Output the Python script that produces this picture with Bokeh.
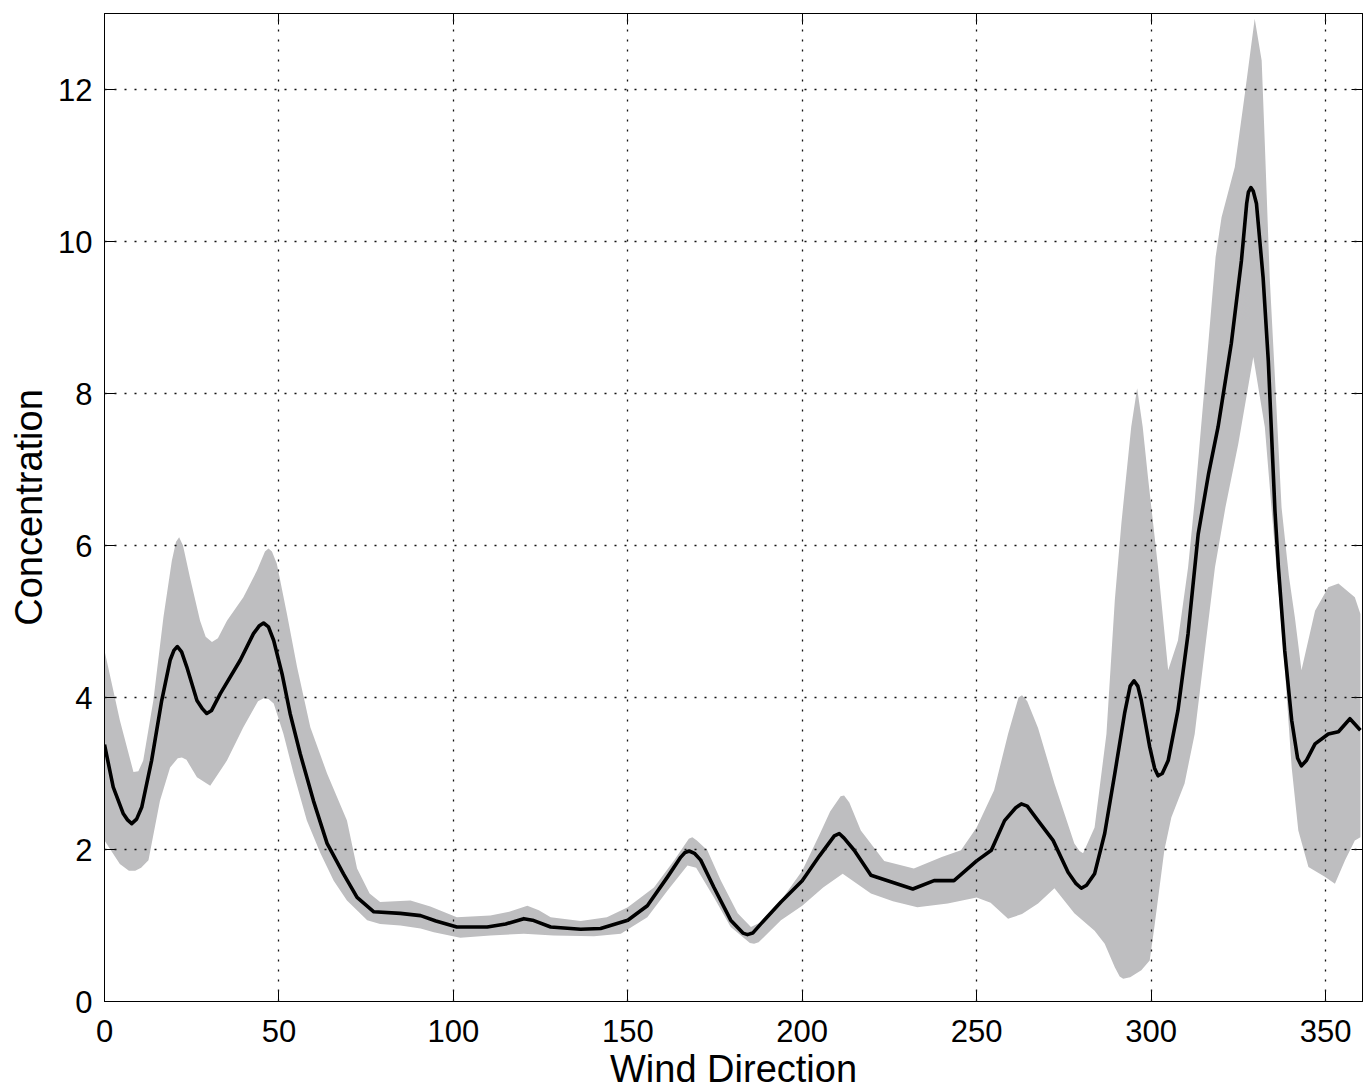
import numpy as np
from bokeh.plotting import figure
from bokeh.models import LinearAxis, FixedTicker, Range1d, CustomJSTickFormatter
from bokeh.embed import file_html
from bokeh.resources import INLINE

# ---- data ----
mean_x = [0, 2.5, 5.4, 6.6, 7.8, 9.2, 10.7, 13.5, 16.4, 18.8, 19.9, 20.9, 22.1, 23.6, 26.5, 28.1,
          29.3, 30.7, 33.2, 38.9, 42.7, 44.3, 45.6, 47, 48.5, 50.9, 53.2, 56.1, 59.9, 63.8, 68.5,
          72.4, 77.2, 84.8, 90.6, 95, 101, 109.7, 115, 120.2, 122.7, 127.9, 136.5, 142.2, 150,
          155.6, 161.4, 165.2, 166.4, 167.6, 169.1, 170.9, 174.7, 179.5, 183, 184.3, 185.8,
          189.1, 193.9, 200, 205, 209.2, 210.6, 212, 214.9, 219.7, 224.5, 231.7, 237.8, 243.5,
          250, 254.2, 258, 261.2, 262.8, 264.5, 267.6, 271.9, 276.2, 278.5, 280, 281.5, 283.8,
          286.7, 289.6, 292.4, 294, 295.1, 296.2, 297.2, 299.6, 301, 302, 303.2, 304.9, 307.7,
          310.6, 313.5, 316.5, 319.2, 323, 325.9, 327.4, 327.9, 328.6, 329.3, 330.2, 332.1,
          333.6, 335.5, 336.5, 338.3, 340.3, 342, 343.1, 344.5, 347, 350.8, 353.7, 357, 360]
mean_y = [3.38, 2.82, 2.47, 2.39, 2.34, 2.40, 2.56, 3.17, 3.96, 4.49, 4.62, 4.67, 4.6, 4.4, 3.96, 3.85,
          3.79, 3.83, 4.05, 4.49, 4.84, 4.94, 4.98, 4.93, 4.75, 4.31, 3.79, 3.26, 2.64, 2.08, 1.68,
          1.37, 1.18, 1.16, 1.13, 1.06, 0.98, 0.98, 1.02, 1.09, 1.07, 0.98, 0.95, 0.96, 1.07,
          1.26, 1.64, 1.9, 1.96, 1.98, 1.95, 1.86, 1.5, 1.07, 0.9, 0.88, 0.9,
          1.07, 1.31, 1.59, 1.92, 2.18, 2.21, 2.15, 1.99, 1.66, 1.59, 1.48, 1.59, 1.59,
          1.85, 1.99, 2.38, 2.55, 2.6, 2.57, 2.38, 2.12, 1.70, 1.55, 1.49, 1.53, 1.68,
          2.21, 3.0, 3.79, 4.15, 4.22, 4.15, 3.96, 3.35, 3.07, 2.97, 3.0, 3.17, 3.83,
          4.84, 6.15, 6.95, 7.56, 8.66, 9.75, 10.5, 10.65, 10.71, 10.66, 10.5, 9.53,
          8.43, 6.46, 5.71, 4.62, 3.7, 3.2, 3.1, 3.17, 3.39, 3.52, 3.55, 3.72, 3.57]

upper_x = [0, 4.4, 8.3, 9.7, 11.1, 14, 16.9, 19.3, 20.5, 21.4, 22.5, 24.5, 27.4, 29, 30.8, 32.5,
           35.1, 39.8, 43.7, 46, 47, 48, 49.4, 52.3, 55.2, 59, 63.8, 69.5, 72.4, 76, 79, 87.7,
           93.4, 101, 110.6, 116, 121.2, 124.5, 127.9, 136.5, 144, 150, 157.5, 163.3, 167.5,
           168.5, 169.8, 172.8, 176.7, 181.5, 185.3, 188, 193.9, 200, 205, 208, 211, 212, 213.5,
           216.8, 223.5, 232, 240, 245.5, 250, 255, 259, 262, 263, 264.5, 267.6, 272.3, 278,
           279.5, 280.5, 283.8, 287.2, 289.6, 291.5, 294.3, 296, 297.6, 299.1, 302, 304.9, 307.7,
           310.6, 312.5, 316.4, 318.5, 320.2, 324, 326.9, 329.7, 331.7, 332.6, 334, 335.5, 337.4,
           339.5, 341.2, 343.1, 347, 350.8, 353.7, 358.4, 360]
upper_y = [4.62, 3.7, 3.02, 3.03, 3.17, 3.96, 5.06, 5.8, 6.05, 6.11, 6.0, 5.58, 5.01, 4.8, 4.73, 4.78,
           5.01, 5.32, 5.67, 5.92, 5.96, 5.92, 5.76, 5.1, 4.4, 3.61, 3.0, 2.38, 1.75, 1.42, 1.31, 1.33,
           1.25, 1.11, 1.13, 1.18, 1.26, 1.2, 1.11, 1.06, 1.11, 1.24, 1.5, 1.86, 2.14,
           2.16, 2.12, 1.99, 1.59, 1.16, 0.98, 1.04, 1.33, 1.72, 2.2, 2.5, 2.7, 2.71, 2.62,
           2.25, 1.85, 1.75, 1.9, 1.99, 2.29, 2.78, 3.52, 4.0, 4.03, 3.95, 3.6, 2.87, 2.08,
           1.98, 1.95, 2.29, 3.52, 5.28, 6.3, 7.56, 8.07, 7.56, 6.9, 5.71, 4.36, 4.75,
           5.71, 6.59, 8.66, 9.8, 10.32, 10.98, 11.95, 12.93, 12.38, 11.29, 9.53, 8.21, 6.5,
           5.6, 5.06, 4.36, 5.14, 5.45, 5.5, 5.32, 5.1]

lower_x = [0, 4.4, 7, 8.8, 10.5, 12.6, 15.9, 18.8, 21, 22.2, 23.5, 26.5, 30.3, 35.1, 39.8, 44,
           45.6, 47, 48.5, 51.3, 54.2, 58, 61.9, 65.7, 69.5, 75.3, 79, 84.8, 90.6, 94.4, 102,
           110.6, 120.2, 128.7, 140.3, 148, 155.6, 161.4, 167.1, 169.6, 174.7, 179.5, 185,
           186.2, 187.5, 193.9, 200, 206, 211.6, 219.7, 226, 233, 241.7, 250, 254, 259, 263,
           267.6, 272.3, 278, 283.8, 286.7, 289.6, 291, 292, 294, 297.2, 299.6, 301, 303.8,
           305.8, 309.6, 312.5, 315.4, 318.3, 321.3, 325, 329.3, 332.6, 334.5, 336.5, 338.3,
           340.3, 342.2, 345.1, 349.8, 352.7, 355.6, 358.4, 360]
lower_y = [2.12, 1.81, 1.72, 1.72, 1.76, 1.86, 2.64, 3.08, 3.2, 3.21, 3.18, 2.95, 2.84, 3.17, 3.61, 3.95,
           3.99, 3.98, 3.92, 3.52, 3.0, 2.38, 1.95, 1.59, 1.33, 1.07, 1.02, 1.0, 0.96, 0.91, 0.84,
           0.87, 0.89, 0.87, 0.86, 0.89, 1.11, 1.46, 1.79, 1.76, 1.37, 0.98, 0.77,
           0.76, 0.78, 1.07, 1.26, 1.5, 1.68, 1.42, 1.32, 1.24, 1.29, 1.37, 1.3, 1.09, 1.15,
           1.29, 1.49, 1.16, 0.93, 0.76, 0.45, 0.33, 0.3, 0.32, 0.41, 0.54, 1.0, 1.99,
           2.42, 2.87, 3.52, 4.62, 5.71, 6.5, 7.34, 8.48, 7.56, 6.5, 5.4, 4.4,
           3.08, 2.25, 1.77, 1.64, 1.55, 1.86, 2.12, 2.16]

x_ticks = [0, 50, 100, 150, 200, 250, 300, 350]
y_ticks = [0, 2, 4, 6, 8, 10, 12]
x_label = "Wind Direction"
y_label = "Concentration"

FONT = "Liberation Sans"

p = figure(frame_width=1258, frame_height=988,
           x_range=Range1d(0, 360.6), y_range=Range1d(0, 13),
           output_backend="svg", toolbar_location=None,
           min_border_left=104, min_border_top=13, min_border_right=1, min_border_bottom=91,
           background_fill_color="white", border_fill_color="white")

band_x = list(upper_x) + list(lower_x)[::-1]
band_y = list(upper_y) + list(lower_y)[::-1]
p.patch(band_x, band_y, fill_color="#bebec0", line_color=None)
p.line(mean_x, mean_y, line_color="black", line_width=3.6, line_join="round")

p.outline_line_color = "black"
p.outline_line_width = 1

for ax in (p.xaxis[0], p.yaxis[0]):
    ax.major_tick_in = 11
    ax.major_tick_out = 0
    ax.minor_tick_line_color = None
    ax.axis_line_color = "black"
    ax.major_tick_line_color = "black"
    ax.major_label_text_font = FONT
    ax.major_label_text_font_size = "31px"
    ax.major_label_text_color = "black"
    ax.axis_label_text_font = FONT
    ax.axis_label_text_font_size = "38px"
    ax.axis_label_text_font_style = "normal"
    ax.axis_label_text_color = "black"

p.xaxis[0].ticker = FixedTicker(ticks=x_ticks)
p.yaxis[0].ticker = FixedTicker(ticks=y_ticks)
p.xaxis[0].axis_label = x_label
p.yaxis[0].axis_label = y_label
p.xaxis[0].major_label_standoff = 18
p.yaxis[0].major_label_standoff = 12
p.xaxis[0].axis_label_standoff = 3
p.yaxis[0].axis_label_standoff = 5

blank = CustomJSTickFormatter(code="return '';")
top = LinearAxis(ticker=FixedTicker(ticks=x_ticks), major_tick_in=11, major_tick_out=0,
                 minor_tick_line_color=None, formatter=blank, major_label_text_font_size="8px",
                 major_label_standoff=0, axis_line_color="black")
right = LinearAxis(ticker=FixedTicker(ticks=y_ticks), major_tick_in=11, major_tick_out=0,
                   minor_tick_line_color=None, formatter=blank, major_label_text_font_size="8px",
                   major_label_standoff=0, axis_line_color="black")
p.add_layout(top, "above")
p.add_layout(right, "right")

for g in (p.xgrid[0], p.ygrid[0]):
    g.grid_line_color = "#111111"
    g.grid_line_dash = "2 8"
    g.grid_line_width = 1.3
    g.level = "overlay"
p.xgrid[0].ticker = FixedTicker(ticks=x_ticks)
p.ygrid[0].ticker = FixedTicker(ticks=y_ticks)

open("out.html", "w").write(file_html(p, INLINE))
